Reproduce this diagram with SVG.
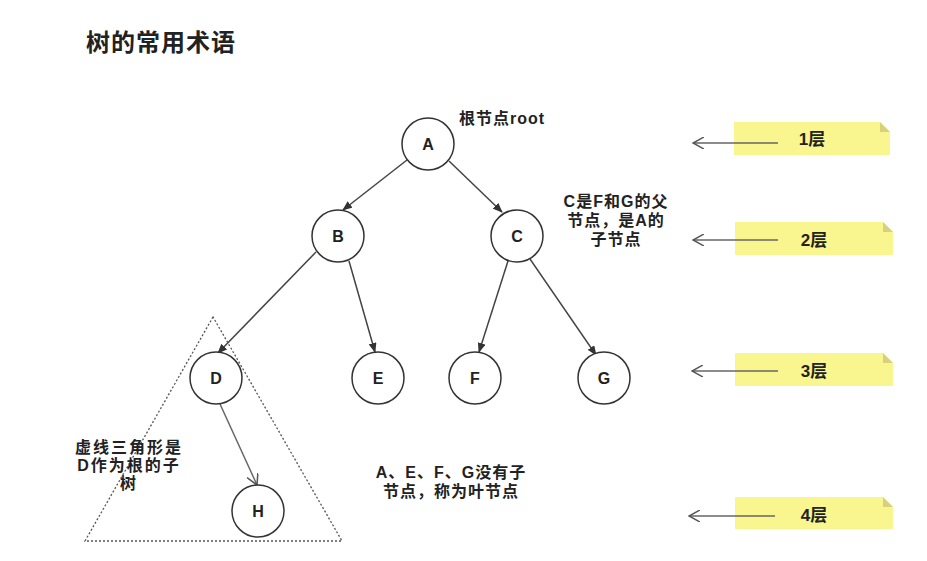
<svg xmlns="http://www.w3.org/2000/svg" width="927" height="561" viewBox="0 0 927 561">
<style>
.t{font-family:"Liberation Sans","Noto Sans CJK SC",sans-serif;font-weight:bold;fill:#222;}
.n circle{fill:#fff;stroke:#333;stroke-width:1.5;}
.n text{font-family:"Liberation Sans",sans-serif;font-weight:bold;font-size:16px;fill:#222;text-anchor:middle;}
.e{stroke:#444;stroke-width:1.5;fill:none;marker-end:url(#ah);}
.lv{stroke:#666;stroke-width:1.5;fill:none;marker-end:url(#open);}
.note{fill:#f9f68f;}
.fold{fill:#d6d27c;}
</style>
<defs>
<marker id="ah" markerWidth="10" markerHeight="8" refX="9" refY="4" orient="auto" markerUnits="userSpaceOnUse">
<path d="M0,0 L10,4 L0,8 z" fill="#333"/>
</marker>
<marker id="open" markerWidth="12" markerHeight="12" refX="11" refY="6" orient="auto" markerUnits="userSpaceOnUse">
<path d="M0,0 L11,6 L0,12" fill="none" stroke="#555" stroke-width="1.5"/>
</marker>
</defs>
<rect width="927" height="561" fill="#fff"/>
<text class="t" x="86" y="51" font-size="24" letter-spacing="1">树的常用术语</text>

<g id="triangle">
<polygon points="213,317 85,541 342,541" fill="none" stroke="#555" stroke-width="1.3" stroke-dasharray="2,2"/>
</g>

<g id="note1">
<path class="note" d="M734,122 H880 L890,132 V155 H734 Z"/><path class="fold" d="M880,122 L890,132 H880 Z"/>
<text class="t" x="812" y="145" font-size="17" text-anchor="middle">1层</text>
</g>
<g id="note2">
<path class="note" d="M735,222 H883 L893,232 V255 H735 Z"/><path class="fold" d="M883,222 L893,232 H883 Z"/>
<text class="t" x="814" y="246" font-size="17" text-anchor="middle">2层</text>
</g>
<g id="note3">
<path class="note" d="M735,353 H883 L893,363 V386 H735 Z"/><path class="fold" d="M883,353 L893,363 H883 Z"/>
<text class="t" x="814" y="377" font-size="17" text-anchor="middle">3层</text>
</g>
<g id="note4">
<path class="note" d="M735,497 H883 L893,507 V529 H735 Z"/><path class="fold" d="M883,497 L893,507 H883 Z"/>
<text class="t" x="814" y="521" font-size="17" text-anchor="middle">4层</text>
</g>

<g id="connectors">
<line class="e" x1="407" y1="160" x2="343" y2="210"/>
<line class="e" x1="449" y1="161" x2="502" y2="212"/>
<line class="e" x1="316" y1="252" x2="218" y2="353"/>
<line class="e" x1="349" y1="261" x2="375" y2="352"/>
<line class="e" x1="508" y1="261" x2="479" y2="352"/>
<line class="e" x1="530" y1="259" x2="596" y2="355"/>
<line class="lv" x1="220" y1="404" x2="257" y2="485"/>
<line class="lv" x1="778" y1="143" x2="693" y2="143"/>
<line class="lv" x1="778" y1="240" x2="693" y2="240"/>
<line class="lv" x1="778" y1="371" x2="692" y2="371"/>
<line class="lv" x1="775" y1="516" x2="689" y2="516"/>
</g>

<g id="A" class="n"><circle cx="428" cy="144" r="26"/><text x="428" y="150">A</text></g>
<g id="B" class="n"><circle cx="338" cy="236" r="26"/><text x="338" y="242">B</text></g>
<g id="C" class="n"><circle cx="517" cy="236" r="26"/><text x="517" y="242">C</text></g>
<g id="D" class="n"><circle cx="216" cy="378" r="26"/><text x="216" y="384">D</text></g>
<g id="E" class="n"><circle cx="378" cy="378" r="26"/><text x="378" y="384">E</text></g>
<g id="F" class="n"><circle cx="475" cy="378" r="26"/><text x="475" y="384">F</text></g>
<g id="G" class="n"><circle cx="604" cy="378" r="26"/><text x="604" y="384">G</text></g>
<g id="H" class="n"><circle cx="258" cy="511" r="26"/><text x="258" y="517">H</text></g>

<g id="labels">
<text class="t" x="459" y="124" font-size="16" letter-spacing="1">根节点root</text>
<text class="t" font-size="16" letter-spacing="1" text-anchor="middle"><tspan x="616" y="207">C是F和G的父</tspan><tspan x="616" y="226">节点，是A的</tspan><tspan x="616" y="245">子节点</tspan></text>
<text class="t" font-size="16" letter-spacing="2" text-anchor="middle"><tspan x="129" y="453">虚线三角形是</tspan><tspan x="129" y="471">D作为根的子</tspan><tspan x="129" y="489">树</tspan></text>
<text class="t" font-size="16" letter-spacing="1" text-anchor="middle"><tspan x="451" y="478">A、E、F、G没有子</tspan><tspan x="451" y="497">节点，称为叶节点</tspan></text>
</g>
</svg>
